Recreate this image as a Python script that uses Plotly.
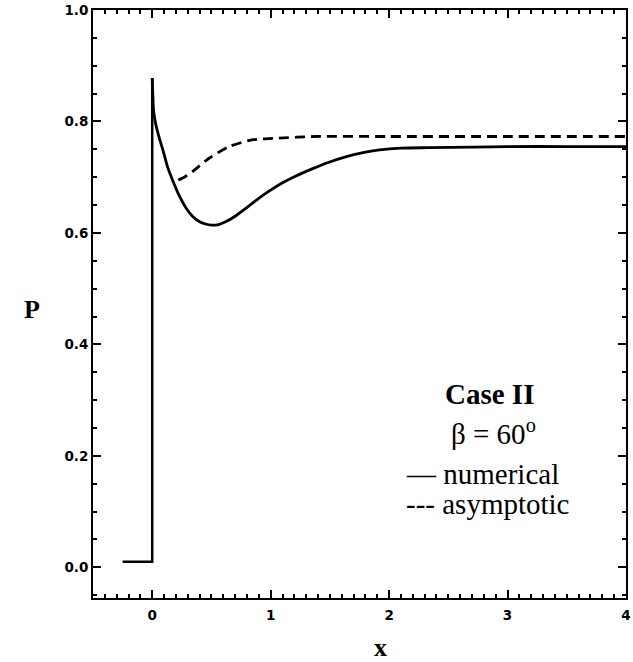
import plotly.graph_objects as go

# Numerical solution: flat inflow state, jump at x = 0, then the relaxation curve
step_x = [-0.25, 0.0, 0.0]
step_p = [0.01, 0.01, 0.878]

num_x = [0.0, 0.005, 0.012, 0.03, 0.06, 0.094, 0.13, 0.177, 0.23, 0.288, 0.34, 0.40,
         0.45, 0.50, 0.56, 0.62, 0.70, 0.79, 0.88, 0.98, 1.10, 1.20, 1.35, 1.48,
         1.64, 1.80, 1.92, 2.10, 2.33, 2.70, 3.0, 3.5, 4.0]
num_p = [0.878, 0.850, 0.818, 0.795, 0.770, 0.746, 0.718, 0.692, 0.666, 0.644, 0.630, 0.620,
         0.616, 0.614, 0.615, 0.620, 0.630, 0.644, 0.659, 0.674, 0.690, 0.701, 0.715, 0.726,
         0.737, 0.745, 0.749, 0.752, 0.753, 0.754, 0.755, 0.755, 0.755]

# Asymptotic solution
asy_x = [0.22, 0.27, 0.34, 0.48, 0.65, 0.84, 1.06, 1.37, 2.0, 3.0, 4.0]
asy_p = [0.695, 0.700, 0.710, 0.734, 0.755, 0.767, 0.770, 0.773, 0.773, 0.773, 0.773]

x_ticks = [0, 1, 2, 3, 4]
y_ticks = [0.0, 0.2, 0.4, 0.6, 0.8, 1.0]
y_tick_text = ["0.0", "0.2", "0.4", "0.6", "0.8", "1.0"]

fig = go.Figure()
fig.add_trace(go.Scatter(x=step_x, y=step_p, mode="lines",
                         line=dict(color="black", width=2.5), showlegend=False))
fig.add_trace(go.Scatter(x=num_x, y=num_p, mode="lines",
                         line=dict(color="black", width=2.8, shape="spline", smoothing=0.8),
                         showlegend=False))
fig.add_trace(go.Scatter(x=asy_x, y=asy_p, mode="lines",
                         line=dict(color="black", width=2.8, dash="10px,6px",
                                   shape="spline", smoothing=0.6),
                         showlegend=False))

tick_font = dict(family="DejaVu Sans", size=13.5, color="black", weight="bold")
serif = "Liberation Serif, Times New Roman, serif"

fig.update_xaxes(range=[-0.5, 4.0], tickvals=x_ticks, ticks="inside", ticklen=8,
                 tickwidth=2, tickcolor="black", showline=True, linewidth=2,
                 linecolor="black", mirror="ticks", showgrid=False, zeroline=False,
                 tickfont=tick_font, ticklabeloverflow="allow", ticklabelstandoff=4,
                 minor=dict(dtick=0.1, ticks="inside", ticklen=4, tickwidth=1.5,
                            tickcolor="black", showgrid=False))
fig.update_yaxes(range=[-0.055, 1.0], tickvals=y_ticks, ticktext=y_tick_text,
                 ticks="inside", ticklen=8, tickwidth=2, tickcolor="black",
                 showline=True, linewidth=2, linecolor="black", mirror="ticks",
                 showgrid=False, zeroline=False, tickfont=tick_font,
                 ticklabeloverflow="allow",
                 minor=dict(dtick=0.05, ticks="inside", ticklen=4, tickwidth=1.5,
                            tickcolor="black", showgrid=False))

notes = [
    dict(text="<b>Case II</b>", x=0.743, y=0.347, xanchor="center"),
    dict(text="β = 60<sup>o</sup>", x=0.751, y=0.282, xanchor="center"),
    dict(text="— numerical", x=0.584, y=0.211, xanchor="left"),
    dict(text="--- asymptotic", x=0.584, y=0.160, xanchor="left"),
]
for n in notes:
    fig.add_annotation(xref="paper", yref="paper", yanchor="middle", showarrow=False,
                       font=dict(family=serif, size=29, color="black"), **n)

fig.add_annotation(text="<b>P</b>", xref="paper", yref="paper", x=-0.115, y=0.49,
                   xanchor="center", yanchor="middle", showarrow=False,
                   font=dict(family=serif, size=26, color="black"))
fig.add_annotation(text="<b>x</b>", xref="paper", yref="paper", x=0.54, y=-0.085,
                   xanchor="center", yanchor="middle", showarrow=False,
                   font=dict(family=serif, size=26, color="black"))

fig.update_layout(width=633, height=662, margin=dict(l=93, r=2, t=10, b=64),
                  paper_bgcolor="white", plot_bgcolor="white")

fig.write_html("out.html")
